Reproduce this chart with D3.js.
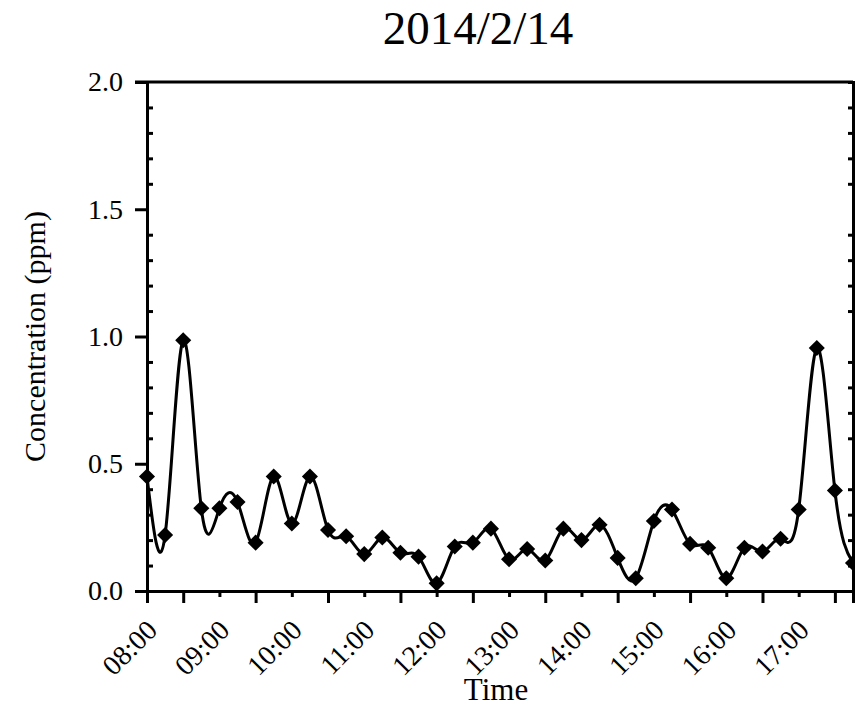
<!DOCTYPE html>
<html>
<head>
<meta charset="utf-8">
<title>2014/2/14</title>
<script src="https://d3js.org/d3.v7.min.js"></script>
<style>
  body { margin: 0; background: #fff; }
  svg text { font-family: "Liberation Serif", "Times New Roman", serif; fill: #000; }
</style>
</head>
<body>
<div id="chart"></div>
<script>
// readings every 15 min, 08:00 .. 17:45
const times = ["08:00","08:15","08:30","08:45","09:00","09:15","09:30","09:45",
  "10:00","10:15","10:30","10:45","11:00","11:15","11:30","11:45",
  "12:00","12:15","12:30","12:45","13:00","13:15","13:30","13:45",
  "14:00","14:15","14:30","14:45","15:00","15:15","15:30","15:45",
  "16:00","16:15","16:30","16:45","17:00","17:15","17:30","17:45"];
const conc = [0.45, 0.22, 0.985, 0.325, 0.325, 0.35, 0.19, 0.45,
  0.265, 0.45, 0.24, 0.215, 0.145, 0.21, 0.15, 0.135,
  0.03, 0.175, 0.19, 0.245, 0.125, 0.165, 0.12, 0.245,
  0.20, 0.26, 0.13, 0.05, 0.275, 0.32, 0.185, 0.17,
  0.05, 0.17, 0.155, 0.205, 0.32, 0.955, 0.395, 0.11];
const hourLabels = ["08:00","09:00","10:00","11:00","12:00","13:00","14:00","15:00","16:00","17:00"];
const halfHours = ["08:30","09:30","10:30","11:30","12:30","13:30","14:30","15:30","16:30","17:30"];
const yMajor = [0, 0.5, 1.0, 1.5, 2.0];

const W = 855, H = 717;
const mL = 147, mR = 853, mT = 82, mB = 591;

const parse = d3.timeParse("%H:%M");
const data = times.map((t, i) => ({ t: parse(t), v: conc[i] }));

const x = d3.scaleTime()
  .domain([parse("08:00"), parse("17:45")])
  .range([mL, mR]);
const y = d3.scaleLinear().domain([0, 2]).range([mB, mT]);

const svg = d3.select("#chart").append("svg")
  .attr("width", W).attr("height", H);

// title
svg.append("text")
  .attr("x", 478).attr("y", 44)
  .attr("text-anchor", "middle")
  .style("font-size", "47px")
  .text("2014/2/14");

// frame top
svg.append("line").attr("x1", mL - 12).attr("x2", mR).attr("y1", mT).attr("y2", mT)
  .attr("stroke", "#000").attr("stroke-width", 3);

const yMinor = d3.range(0, 2.01, 0.1).map(d => +d.toFixed(1)).filter(v => !yMajor.includes(v));

// left axis: majors outward, minors inward
const yAxisL = svg.append("g").attr("transform", `translate(${mL},0)`)
  .call(d3.axisLeft(y).tickValues(yMajor).tickFormat(d3.format(".1f")).tickSize(12).tickPadding(12));
yAxisL.selectAll("text").style("font-size", "28px");
svg.append("g").attr("transform", `translate(${mL},0)`)
  .call(d3.axisRight(y).tickValues(yMinor).tickSize(6).tickFormat(""))
  .select(".domain").remove();

// right axis: minors inward
svg.append("g").attr("transform", `translate(${mR},0)`)
  .call(d3.axisLeft(y).tickValues(yMinor).tickSize(5).tickFormat(""));
svg.append("g").attr("transform", `translate(${mR},0)`)
  .call(d3.axisRight(y).tickValues(yMajor).tickSize(10).tickFormat(""))
  .select(".domain").remove();

// bottom axis: long ticks at half hours, short ticks at labelled hours
svg.append("g").attr("transform", `translate(0,${mB})`)
  .call(d3.axisBottom(x).tickValues(halfHours.map(parse)).tickSize(12).tickFormat(""));
svg.append("g").attr("transform", `translate(0,${mB})`)
  .call(d3.axisBottom(x).tickValues(hourLabels.map(parse)).tickSize(6).tickFormat(""))
  .select(".domain").remove();

svg.selectAll(".domain").attr("stroke-width", 3);
svg.selectAll(".tick line").attr("stroke-width", 3);

// rotated hour labels
svg.append("g").selectAll("text")
  .data(hourLabels)
  .join("text")
  .attr("transform", d => `translate(${x(parse(d)) - 3},${mB + 26}) rotate(-45)`)
  .attr("text-anchor", "end")
  .attr("dy", "0.75em")
  .style("font-size", "28px")
  .text(d => d);

// axis titles
svg.append("text")
  .attr("x", 496).attr("y", 700)
  .attr("text-anchor", "middle")
  .style("font-size", "31px")
  .text("Time");
svg.append("text")
  .attr("transform", `translate(45,${(mT + mB) / 2}) rotate(-90)`)
  .attr("text-anchor", "middle")
  .style("font-size", "30px")
  .text("Concentration (ppm)");

// spline line
const line = d3.line()
  .x(d => x(d.t)).y(d => y(d.v))
  .curve(d3.curveNatural);
svg.append("path")
  .datum(data)
  .attr("d", line)
  .attr("fill", "none")
  .attr("stroke", "#000")
  .attr("stroke-width", 3);

// diamond markers
const diamond = d3.symbol().type(d3.symbolDiamond2).size(165);
svg.append("g").selectAll("path")
  .data(data)
  .join("path")
  .attr("transform", d => `translate(${x(d.t)},${y(d.v)})`)
  .attr("d", diamond)
  .attr("fill", "#000");
</script>
</body>
</html>
